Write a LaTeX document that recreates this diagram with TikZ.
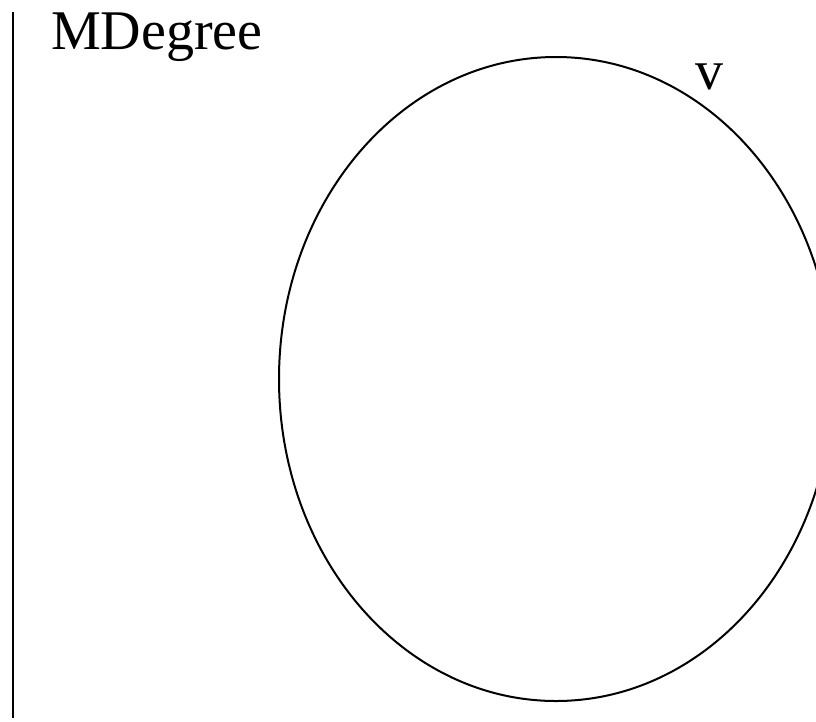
\documentclass[tikz,border=0pt]{standalone}
\usepackage{fontspec}
\setmainfont{Liberation Serif}
\begin{document}
\begin{tikzpicture}[x=1pt,y=-1pt,
  lbl/.style={inner sep=0pt,font=\fontsize{56}{62}\selectfont},
  stroke/.style={line width=2pt,black}]
\path[use as bounding box] (0,0) rectangle (816,721);
\clip (0,0) rectangle (816,721);
\coordinate (ltop) at (12.5,12);
\coordinate (lbot) at (12.5,718);
\draw[stroke] (ltop) -- (lbot);
\node[lbl,anchor=base west] (title) at (51,49) {MDegree};
\node[lbl,anchor=base] (v) at (709,89) {v};
\draw[stroke] (556,379) ellipse [x radius=277, y radius=322];
\end{tikzpicture}
\end{document}
